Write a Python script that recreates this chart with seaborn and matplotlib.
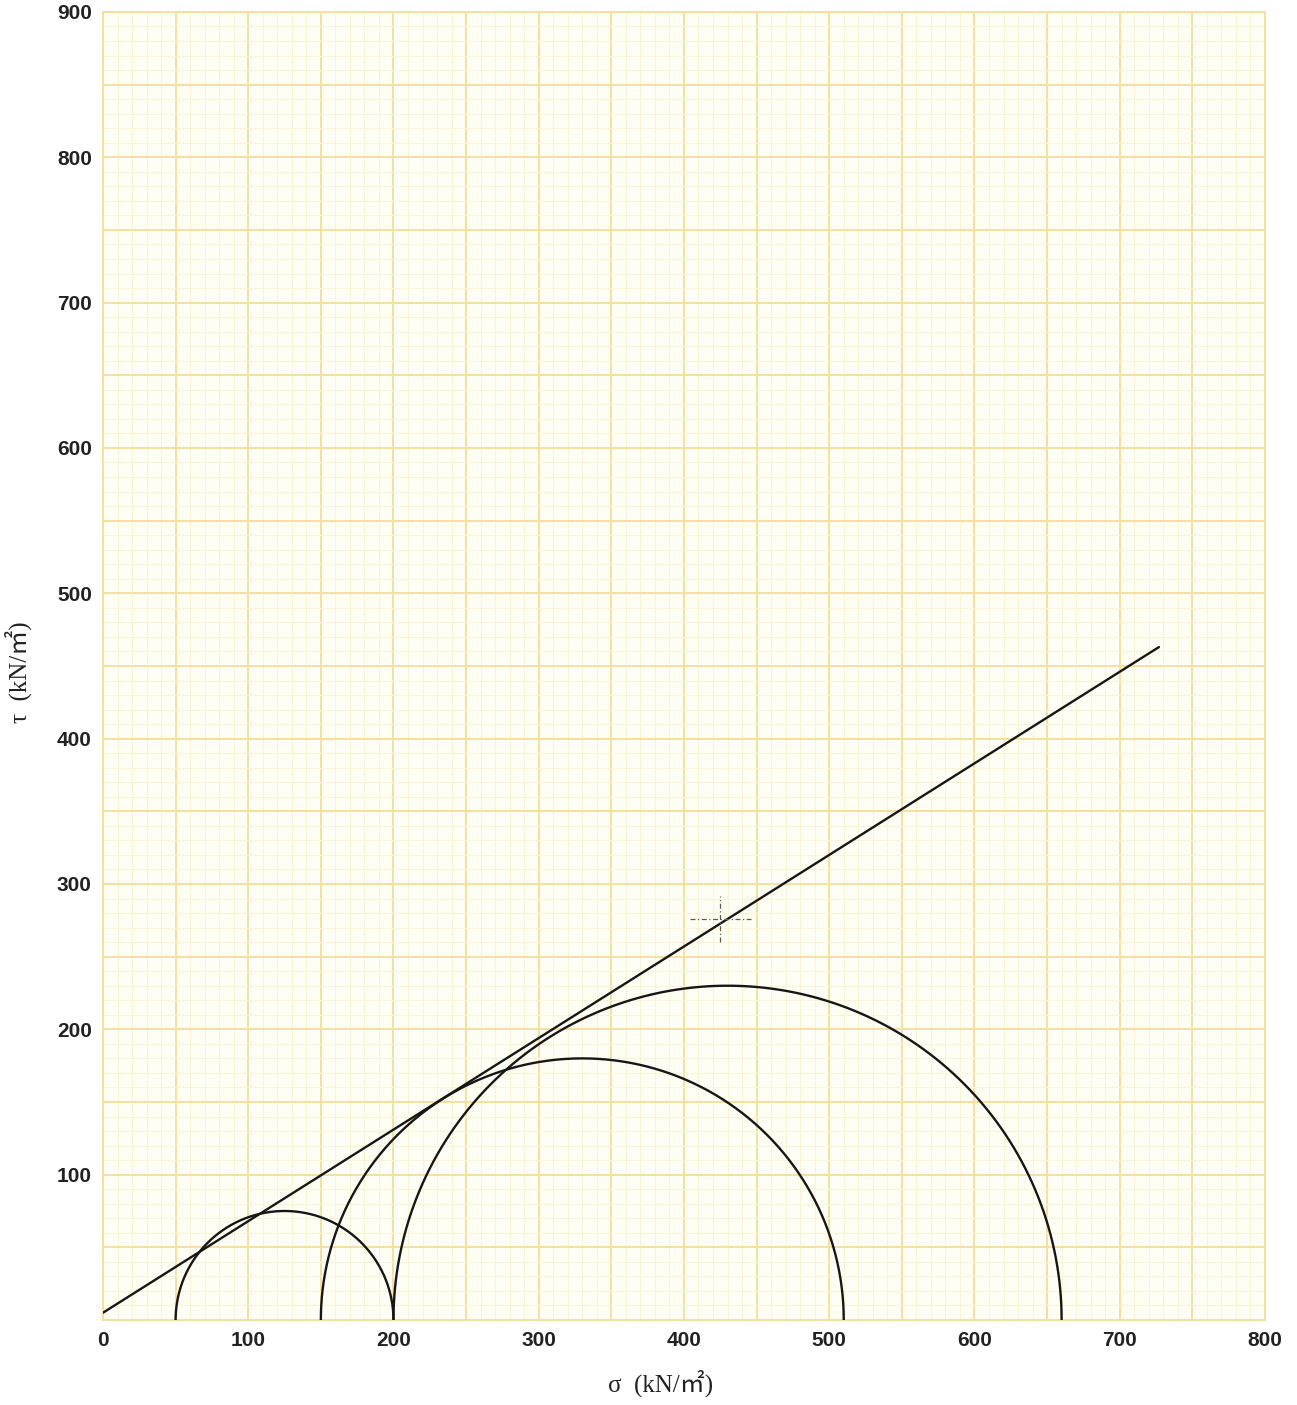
import numpy as np
import pandas as pd
import matplotlib
matplotlib.use("Agg")
import matplotlib.pyplot as plt
import seaborn as sns

# Principal stresses of the three triaxial tests (kN/m2)
sigma3 = [50, 150, 200]
sigma1 = [200, 510, 660]

# Failure envelope end points (sigma, tau)
envelope_sigma = [0, 727]
envelope_tau = [5, 463]

# Small construction cross marked on the envelope
cross_center = (425, 276)
cross_half = (21, 16)

x_ticks = [0, 100, 200, 300, 400, 500, 600, 700, 800]
y_ticks = [100, 200, 300, 400, 500, 600, 700, 800, 900]

sns.set_theme(style="white")
plt.rcParams["font.family"] = ["Liberation Sans", "DejaVu Sans"]

fig = plt.figure(figsize=(12.97, 14.05), dpi=100)
ax = fig.add_axes([0.0794, 0.0605, 0.8959, 0.931])
ax.set_facecolor("#fffef4")

# graph-paper grid
major_c = "#f5e0a0"
minor_c = "#fbf3d6"
for v in range(10, 800, 10):
    ax.axvline(v, color=major_c if v % 50 == 0 else minor_c,
               lw=1.4 if v % 50 == 0 else 0.8, zorder=0)
for v in range(10, 900, 10):
    ax.axhline(v, color=major_c if v % 50 == 0 else minor_c,
               lw=1.4 if v % 50 == 0 else 0.8, zorder=0)

# Mohr circles
theta = np.linspace(0, np.pi, 400)
rows = []
for i, (s3, s1) in enumerate(zip(sigma3, sigma1)):
    c = (s1 + s3) / 2
    r = (s1 - s3) / 2
    for t in theta:
        rows.append({"test": i, "sigma": c + r * np.cos(t), "tau": r * np.sin(t)})
circles = pd.DataFrame(rows)
for i, grp in circles.groupby("test"):
    sns.lineplot(data=grp, x="sigma", y="tau", sort=False, color="#161616",
                 lw=1.7, ax=ax, zorder=3, legend=False)

# Failure envelope
env = pd.DataFrame({"sigma": envelope_sigma, "tau": envelope_tau})
sns.lineplot(data=env, x="sigma", y="tau", sort=False, color="#161616",
             lw=1.7, ax=ax, zorder=3, legend=False)

# construction cross
cx, cy = cross_center
hx, hy = cross_half
ax.plot([cx - hx, cx + hx], [cy, cy], color="#6b5545", lw=0.9,
        ls=(0, (4, 2, 1, 2)), zorder=4)
ax.plot([cx, cx], [cy - hy, cy + hy], color="#6b5545", lw=0.9,
        ls=(0, (4, 2, 1, 2)), zorder=4)

ax.set_xlim(0, 800)
ax.set_ylim(0, 900)
ax.set_xticks(x_ticks)
ax.set_yticks(y_ticks)
ax.set_xticklabels([str(v) for v in x_ticks], fontsize=15, fontweight="bold",
                   color="#222222")
ax.set_yticklabels([str(v) for v in y_ticks], fontsize=15, fontweight="bold",
                   color="#222222")
ax.tick_params(axis="both", direction="in", length=6, width=1.2,
               color="#333333", pad=8)

for s in ax.spines.values():
    s.set_color(major_c)
    s.set_linewidth(1.4)

label_family = ["Liberation Serif", "Noto Sans CJK JP"]
ax.set_xlabel("σ  (kN/㎡)", fontsize=18, family=label_family, color="#222222")
ax.xaxis.set_label_coords(0.48, -0.038)
ax.set_ylabel("τ  (kN/㎡)", fontsize=18, family=label_family, color="#222222")
ax.yaxis.set_label_coords(-0.061, 0.495)

fig.savefig("out.png", dpi=100, facecolor="white")
